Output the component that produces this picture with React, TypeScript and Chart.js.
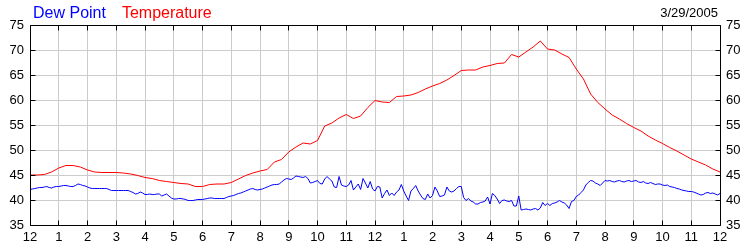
import { useEffect, useRef } from "react";
import { Chart, registerables } from "chart.js";

Chart.register(...registerables);

const dateLabel = "3/29/2005";
const seriesNames = ["Dew Point", "Temperature"];
const seriesColors = ["#0000ff", "#ff0000"];
const hourLabels = ["12", "1", "2", "3", "4", "5", "6", "7", "8", "9", "10", "11", "12", "1", "2", "3", "4", "5", "6", "7", "8", "9", "10", "11", "12"];
const yMin = 35;
const yMax = 75;
const yStep = 5;

// temperature, one reading every 15 minutes from midnight to midnight
const tempStepMinutes = 15;
const temperature = [
  45.0, 45.0, 45.1, 45.6,
  46.4, 46.9, 46.9, 46.6,
  46.0, 45.6, 45.5, 45.5,
  45.5, 45.4, 45.2, 44.9,
  44.5, 44.3, 43.9, 43.7,
  43.5, 43.3, 43.2, 42.7,
  42.7, 43.1, 43.2, 43.2,
  43.5, 44.2, 44.9, 45.4,
  45.8, 46.1, 47.6, 48.1,
  49.6, 50.6, 51.4, 51.2,
  51.9, 54.8, 55.4, 56.4,
  57.1, 56.3, 56.8, 58.5,
  59.9, 59.6, 59.5, 60.7,
  60.8, 61.0, 61.5, 62.2,
  62.8, 63.3, 64.0, 64.9,
  65.9, 66.0, 66.0, 66.6,
  66.9, 67.3, 67.4, 69.1,
  68.6, 69.6, 70.6, 71.8,
  70.2, 70.0, 69.2, 68.5,
  66.2, 64.2, 61.2, 59.5,
  58.2, 57.0, 56.2, 55.3,
  54.5, 53.8, 52.8, 52.0,
  51.3, 50.5, 49.8, 49.0,
  48.2, 47.6, 47.0, 46.2,
  45.6,
];

// dew point, one reading every 5 minutes from midnight to midnight
const dewStepMinutes = 5;
const dewPoint = [
  42.1, 42.2, 42.3, 42.4, 42.5, 42.5, 42.6, 42.7, 42.5, 42.4, 42.6, 42.7,
  42.7, 42.8, 42.9, 42.9, 42.8, 42.7, 42.7, 42.9, 43.2, 43.1, 42.9, 42.8,
  42.6, 42.4, 42.3, 42.3, 42.3, 42.3, 42.3, 42.3, 42.3, 42.1, 41.9, 41.9,
  41.9, 41.9, 41.9, 41.9, 41.9, 41.9, 41.7, 41.5, 41.2, 41.3, 41.6, 41.4,
  41.1, 41.1, 41.2, 41.1, 41.1, 41.2, 41.2, 40.8, 41.0, 41.2, 40.8, 40.4,
  40.2, 40.2, 40.3, 40.3, 40.2, 40.1, 39.9, 39.9, 39.9, 40.0, 40.1, 40.1,
  40.1, 40.2, 40.3, 40.4, 40.4, 40.3, 40.3, 40.3, 40.3, 40.3, 40.5, 40.7,
  40.8, 40.9, 41.1, 41.3, 41.4, 41.6, 41.8, 42.0, 42.2, 42.3, 42.1, 42.0,
  42.1, 42.2, 42.4, 42.6, 42.8, 43.0, 43.1, 43.1, 43.2, 43.6, 44.0, 44.3,
  44.2, 44.1, 44.4, 44.8, 44.7, 44.6, 44.5, 44.7, 44.3, 43.4, 43.5, 43.7,
  43.9, 43.3, 43.2, 44.2, 44.7, 44.2, 43.8, 42.6, 42.5, 44.7, 43.0, 42.8,
  42.7, 43.0, 43.9, 42.0, 42.6, 43.2, 42.1, 44.3, 43.4, 42.4, 43.7, 42.2,
  41.8, 42.7, 42.6, 40.4, 41.3, 42.0, 40.9, 41.4, 40.9, 41.6, 42.0, 43.1,
  41.8, 40.8, 39.9, 41.8, 42.3, 42.9, 41.8, 41.0, 40.3, 40.1, 41.2, 40.4,
  40.9, 42.6, 41.8, 40.7, 40.8, 41.0, 42.6, 41.8, 41.6, 41.8, 42.3, 42.7,
  42.7, 40.5, 39.9, 40.3, 39.8, 39.6, 39.2, 39.2, 39.5, 39.6, 39.8, 40.6,
  39.2, 41.3, 40.9, 40.2, 39.3, 39.9, 40.0, 39.8, 39.7, 39.9, 38.8, 38.8,
  40.8, 38.0, 38.1, 38.2, 38.1, 38.0, 38.2, 38.3, 38.0, 38.4, 39.5, 38.9,
  39.3, 38.9, 39.3, 39.4, 39.6, 39.9, 39.6, 39.4, 39.0, 38.3, 39.7, 39.9,
  40.7, 41.0, 41.5, 42.0, 43.0, 43.5, 43.9, 43.8, 43.4, 43.2, 42.9, 43.4,
  43.9, 43.8, 43.9, 43.7, 43.6, 43.8, 43.9, 43.7, 43.6, 43.8, 43.9, 43.7,
  43.8, 43.9, 43.6, 43.5, 43.7, 43.4, 43.3, 43.5, 43.3, 43.1, 43.2, 43.2,
  43.0, 42.9, 43.0, 42.7, 42.6, 42.5, 42.3, 42.2, 42.0, 41.9, 41.8, 41.7,
  41.7, 41.6, 41.4, 41.2, 41.0, 41.1, 41.4, 41.5, 41.3, 41.4, 41.2, 41.0,
  41.3,
];

const FONT = '"Liberation Sans", Arial, sans-serif';

function toPoints(values: number[], stepMinutes: number) {
  return values.map((v, i) => ({ x: (i * stepMinutes) / 60, y: v }));
}

const align = (p: number) => Math.round(p - 0.5) + 0.5;

const framePlugin = {
  id: "frameAndLegend",
  afterDatasetsDraw(chart: any) {
    const { ctx, chartArea: a, scales } = chart;
    const xs = scales.x;
    const ys = scales.y;
    const L = align(a.left);
    const R = align(a.right);
    const T = align(a.top);
    const B = align(a.bottom);
    ctx.save();
    ctx.strokeStyle = "#000000";
    ctx.lineWidth = 1;
    ctx.beginPath();
    ctx.moveTo(L, T);
    ctx.lineTo(R, T);
    ctx.lineTo(R, B);
    ctx.lineTo(L, B);
    ctx.closePath();
    const tick = 5;
    for (let h = 0; h < hourLabels.length; h++) {
      const x = align(xs.getPixelForValue(h));
      ctx.moveTo(x, T);
      ctx.lineTo(x, T + tick);
      ctx.moveTo(x, B);
      ctx.lineTo(x, B - tick);
    }
    for (let v = yMin; v <= yMax; v += yStep) {
      const y = align(ys.getPixelForValue(v));
      ctx.moveTo(L, y);
      ctx.lineTo(L + tick, y);
      ctx.moveTo(R, y);
      ctx.lineTo(R - tick, y);
    }
    ctx.stroke();

    ctx.font = `16px ${FONT}`;
    ctx.textBaseline = "alphabetic";
    ctx.textAlign = "left";
    let lx = 33;
    seriesNames.forEach((name, i) => {
      ctx.fillStyle = seriesColors[i];
      ctx.fillText(name, lx, 18);
      lx += ctx.measureText(name).width + 16;
    });
    ctx.font = `13px ${FONT}`;
    ctx.fillStyle = "#000000";
    ctx.textAlign = "right";
    ctx.fillText(dateLabel, 718, 17);
    ctx.restore();
  },
};

export default function App() {
  const ref = useRef<HTMLCanvasElement | null>(null);

  useEffect(() => {
    if (!ref.current) return;
    const tickFont = { family: FONT, size: 13 };
    const chart = new Chart(ref.current, {
      type: "line",
      data: {
        datasets: [
          {
            label: seriesNames[0],
            data: toPoints(dewPoint, dewStepMinutes),
            borderColor: seriesColors[0],
            borderWidth: 1,
            pointRadius: 0,
            tension: 0,
            fill: false,
          },
          {
            label: seriesNames[1],
            data: toPoints(temperature, tempStepMinutes),
            borderColor: seriesColors[1],
            borderWidth: 1,
            pointRadius: 0,
            tension: 0,
            fill: false,
          },
        ],
      },
      options: {
        animation: false,
        responsive: false,
        maintainAspectRatio: false,
        layout: { padding: { top: 25, left: 0, right: 0, bottom: 0 } },
        plugins: {
          legend: { display: false },
          title: { display: false },
          tooltip: { enabled: false },
        },
        scales: {
          x: {
            type: "linear",
            min: 0,
            max: hourLabels.length - 1,
            position: "bottom",
            grid: { color: "#cccccc", drawTicks: false },
            border: { display: false },
            ticks: {
              stepSize: 1,
              autoSkip: false,
              maxRotation: 0,
              padding: 5,
              color: "#000000",
              font: tickFont,
              callback: (v: any) => hourLabels[Math.round(Number(v))] ?? "",
            },
            afterFit: (s: any) => {
              s.height = 25;
            },
          },
          y: {
            type: "linear",
            position: "left",
            min: yMin,
            max: yMax,
            grid: { color: "#cccccc", drawTicks: false },
            border: { display: false },
            ticks: { stepSize: yStep, padding: 6, color: "#000000", font: tickFont },
            afterFit: (s: any) => {
              s.width = 30;
            },
          },
          y2: {
            type: "linear",
            position: "right",
            min: yMin,
            max: yMax,
            grid: { display: false, drawTicks: false },
            border: { display: false },
            ticks: { stepSize: yStep, padding: 6, color: "#000000", font: tickFont },
            afterFit: (s: any) => {
              s.width = 30;
            },
          },
        },
      },
      plugins: [framePlugin],
    });
    return () => chart.destroy();
  }, []);

  return (
    <div style={{ position: "absolute", left: 0, top: 0, width: 750, height: 250, background: "#ffffff" }}>
      <canvas ref={ref} width={750} height={250} style={{ display: "block", width: 750, height: 250 }} />
    </div>
  );
}
